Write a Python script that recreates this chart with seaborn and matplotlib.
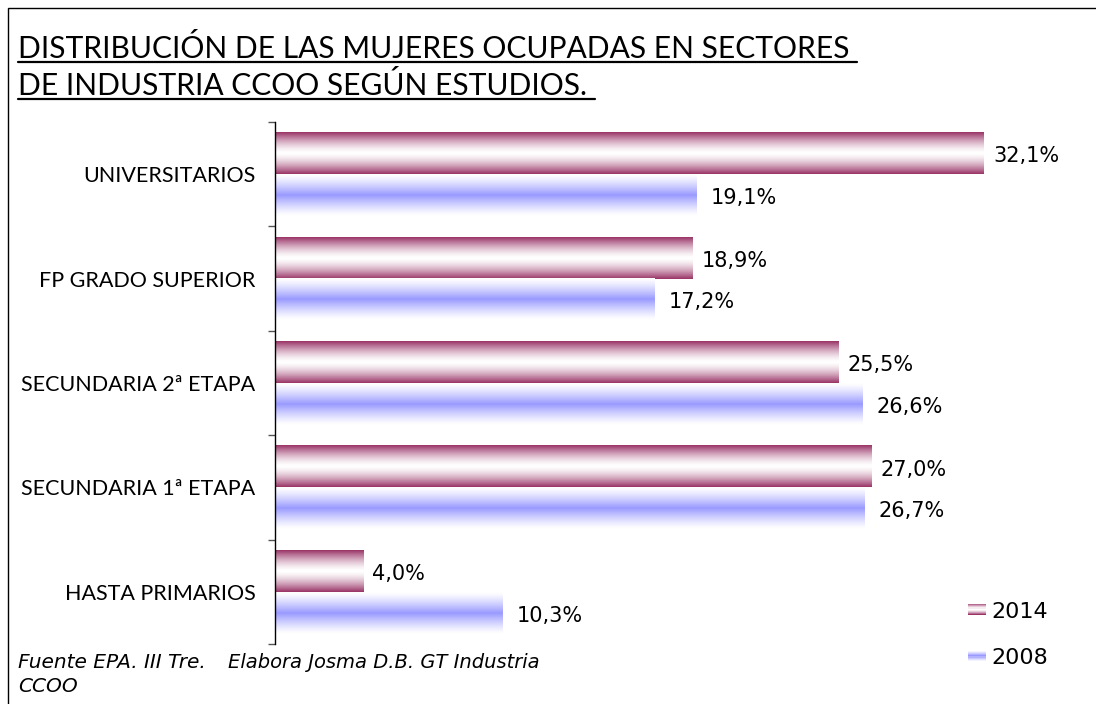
import numpy as np
import pandas as pd
import matplotlib
matplotlib.use('Agg')
import matplotlib.pyplot as plt
import seaborn as sns
from matplotlib.colors import LinearSegmentedColormap
from matplotlib.patches import Rectangle
from matplotlib.lines import Line2D
from matplotlib.legend_handler import HandlerBase

# datos del grafico
niveles = ['UNIVERSITARIOS', 'FP GRADO SUPERIOR', 'SECUNDARIA 2ª ETAPA',
           'SECUNDARIA 1ª ETAPA', 'HASTA PRIMARIOS']
anios = ['2014', '2008']
pct_2014 = [32.1, 18.9, 25.5, 27.0, 4.0]
pct_2008 = [19.1, 17.2, 26.6, 26.7, 10.3]

titulo_1 = 'DISTRIBUCIÓN DE LAS MUJERES OCUPADAS EN SECTORES '
titulo_2 = 'DE INDUSTRIA CCOO SEGÚN ESTUDIOS. '

df = pd.DataFrame({
    'nivel': niveles * 2,
    'pct': pct_2014 + pct_2008,
    'anio': ['2014'] * len(niveles) + ['2008'] * len(niveles),
})

sns.set_style('white')
plt.rcParams['font.family'] = ['DejaVu Sans']
plt.rcParams['text.color'] = 'black'
plt.rcParams['ytick.color'] = 'black'
plt.rcParams['ytick.labelcolor'] = 'black'

W, H = 1096, 704
fig = plt.figure(figsize=(W / 100, H / 100), dpi=100)
ax = fig.add_axes([275 / W, 1 - 644 / H, (1048 - 275) / W, (644 - 122) / H])

sns.barplot(data=df, y='nivel', x='pct', hue='anio', hue_order=anios,
            order=niveles, orient='h', width=0.8, legend=False,
            palette=['#993366', '#9999ff'], ax=ax)

# degradados tipo excel
cmap_14 = LinearSegmentedColormap.from_list('c14', ['#ffffff', '#993366'])
cmap_08 = LinearSegmentedColormap.from_list('c08', ['#ffffff', '#9999ff'])
t = np.linspace(0, 1, 200)
grad_14 = (np.abs(2 * t - 1) ** 1.5).reshape(-1, 1)
grad_08 = ((1 - np.abs(2 * t - 1)) ** 1.3).reshape(-1, 1)

for cont, cm, g in zip(ax.containers, [cmap_14, cmap_08], [grad_14, grad_08]):
    for bar in cont:
        x0, y0 = bar.get_x(), bar.get_y()
        w, h = bar.get_width(), bar.get_height()
        ax.imshow(g, extent=[x0, x0 + w, y0 + h, y0], aspect='auto', cmap=cm,
                  vmin=0, vmax=1, zorder=2, interpolation='bilinear')
        bar.set_visible(False)

# etiquetas de valores
for cont, dx in zip(ax.containers, [9, 14]):
    for bar in cont:
        v = bar.get_width()
        yc = bar.get_y() + bar.get_height() / 2
        ax.annotate(f'{v:.1f}%'.replace('.', ','), (v, yc),
                    xytext=(dx * 0.72, -3 * 0.72), textcoords='offset points',
                    ha='left', va='center', fontsize=15, color='black')

ax.set_xlim(0, 35)
ax.set_ylim(4.5, -0.5)
ax.set_xlabel('')
ax.set_ylabel('')
ax.set_xticks([])
ax.set_yticks(range(len(niveles)))
ax.set_yticklabels(niveles, fontfamily='Lato', fontsize=15.5, color='black')
ax.set_yticks(np.arange(-0.5, len(niveles), 1), minor=True)
ax.tick_params(axis='y', which='major', length=0, pad=14)
ax.tick_params(axis='y', which='minor', length=5, width=1, color='#555555', direction='out', left=True)
for s in ['top', 'right', 'bottom']:
    ax.spines[s].set_visible(False)
ax.spines['left'].set_color('black')
ax.spines['left'].set_linewidth(1)


# leyenda con degradado
class GradHandler(HandlerBase):
    def __init__(self, cmap, prof):
        super().__init__()
        self.cmap = cmap
        self.prof = prof

    def create_artists(self, legend, orig_handle, xdescent, ydescent, width,
                       height, fontsize, trans):
        n = len(self.prof)
        arts = []
        for i, p in enumerate(self.prof):
            arts.append(Rectangle((-xdescent, -ydescent + height * i / n), width,
                                  height / n, facecolor=self.cmap(p),
                                  edgecolor='none', transform=trans))
        return arts


h14 = Rectangle((0, 0), 1, 1)
h08 = Rectangle((0, 0), 1, 1)
prof_14 = list(grad_14[::20, 0])
prof_08 = list(grad_08[::20, 0])
leg = fig.legend([h14, h08], anios, loc='center left',
                 bbox_to_anchor=(948 / W, 1 - 635 / H), frameon=False, fontsize=16,
                 handlelength=0.8, handleheight=0.4, handletextpad=0.25,
                 labelspacing=1.2,
                 handler_map={h14: GradHandler(cmap_14, prof_14),
                              h08: GradHandler(cmap_08, prof_08)})
for txt in leg.get_texts():
    txt.set_color('black')

# titulo subrayado
t1 = fig.text(18 / W, 1 - 58 / H, titulo_1, fontfamily='Lato', fontsize=21.6,
              va='baseline', ha='left', color='black')
t2 = fig.text(18 / W, 1 - 95 / H, titulo_2, fontfamily='Lato', fontsize=21.6,
              va='baseline', ha='left', color='black')
fig.canvas.draw()
r = fig.canvas.get_renderer()
for tx, yl in [(t1, 62), (t2, 99)]:
    bb = tx.get_window_extent(r)
    fig.add_artist(Line2D([bb.x0 / W, bb.x1 / W], [1 - yl / H, 1 - yl / H],
                          transform=fig.transFigure, color='black', lw=1.6))

# fuente
fig.text(18 / W, 1 - 663 / H, 'Fuente EPA. III Tre.', fontfamily='DejaVu Sans',
         style='italic', fontsize=14.5, va='center', color='black')
fig.text(228 / W, 1 - 663 / H, 'Elabora Josma D.B. GT Industria',
         fontfamily='DejaVu Sans', style='italic', fontsize=14, va='center',
         color='black')
fig.text(18 / W, 1 - 687 / H, 'CCOO', fontfamily='DejaVu Sans',
         style='italic', fontsize=14.5, va='center', color='black')

# marco
fig.add_artist(Rectangle((8 / W, -0.05), 1.2, 1 - 8 / H + 0.05,
                         transform=fig.transFigure, fill=False,
                         edgecolor='black', lw=1))

fig.savefig('out.png', dpi=100)
